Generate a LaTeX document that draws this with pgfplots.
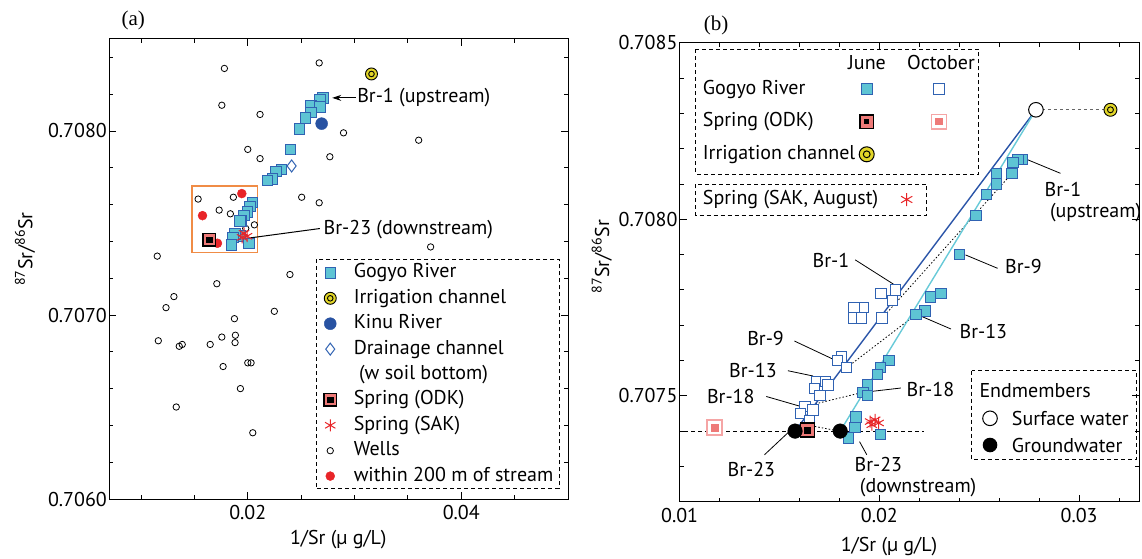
\documentclass[border=0pt]{standalone}
\usepackage{pgfplots}
\pgfplotsset{compat=1.18}
\usepackage{fontspec}
\setmainfont{PT Sans}
\newfontfamily\serifface{Liberation Serif}
\usetikzlibrary{arrows.meta}

\definecolor{gcyan}{RGB}{94,196,212}
\definecolor{gblue}{RGB}{48,98,178}
\definecolor{kinu}{RGB}{40,82,162}
\definecolor{wred}{RGB}{232,36,40}
\definecolor{irrig}{RGB}{226,214,40}
\definecolor{salmon}{RGB}{238,122,120}
\definecolor{pinkb}{RGB}{245,165,165}
\definecolor{orng}{RGB}{240,140,70}
\definecolor{lblue}{RGB}{42,84,168}
\definecolor{lcyan}{RGB}{104,202,216}

\pgfplotsset{
  myaxis/.style={
    scale only axis, clip=false, anchor=south west,
    axis line style={line width=1pt},
    tick align=inside,
    major tick length=7pt, minor tick length=4pt,
    every tick/.append style={line width=0.8pt, black},
    scaled ticks=false,
    /pgf/number format/assume math mode=true,
    yticklabel style={inner sep=2pt, /pgf/number format/.cd, fixed, fixed zerofill, precision=4},
    xticklabel style={inner sep=2pt, yshift=-4pt, /pgf/number format/.cd, fixed, fixed zerofill, precision=2},
  },
  sq/.style={only marks, mark=square*, mark size=5.2pt, mark options={fill=gcyan, draw=gblue, line width=1pt}},
  osq/.style={only marks, mark=square*, mark size=5.2pt, mark options={fill=white, draw=gblue, line width=1pt}},
}
\newcommand{\lbox}{\path[draw=none, fill=none] (0cm,-6pt) rectangle (0.6cm,6pt);}

\begin{document}
\fontsize{20}{24}\selectfont
\begin{tikzpicture}
\useasboundingbox (0pt,0pt) rectangle (1142pt,558pt);

% ================= (a) =================
\begin{axis}[myaxis, at={(109pt,59pt)}, width=459pt, height=460pt,
  xmin=0.007, xmax=0.05, ymin=0.706, ymax=0.7085,
  xtick={0.02,0.04}, minor xtick={0.01,0.015,0.025,0.03,0.035,0.045},
  ytick={0.706,0.707,0.708},
  minor ytick={0.7062,0.7064,0.7066,0.7068,0.7072,0.7074,0.7076,0.7078,0.7082,0.7084},
  legend style={draw=none, fill=none, at={(axis description cs:0.463,0.5137)}, anchor=north west,
     inner sep=0pt, row sep=5.4pt, column sep=14pt,
     nodes={inner sep=1pt, text height=14pt, text depth=4pt}},
  legend cell align=left,
]
% wells
\addplot[forget plot, only marks, mark=o, mark size=3.2pt, mark options={black, line width=0.8pt, fill=white}] coordinates {
(0.01781,0.70834) (0.02669,0.70837) (0.01757,0.70814) (0.02115,0.70809) (0.02897,0.70799)
(0.03601,0.70795) (0.02000,0.70790) (0.02115,0.70785) (0.02769,0.70786) (0.01535,0.70763)
(0.01865,0.70764) (0.01732,0.70757) (0.01837,0.70755) (0.02505,0.70764) (0.02669,0.70761)
(0.02062,0.70749) (0.01981,0.70747) (0.03713,0.70737) (0.01152,0.70732) (0.02395,0.70722)
(0.01710,0.70717) (0.01308,0.70710) (0.01234,0.70704) (0.02249,0.70702) (0.01875,0.70698)
(0.01162,0.70686) (0.01358,0.70683) (0.01386,0.70684) (0.01648,0.70684) (0.01757,0.70688)
(0.01884,0.70689) (0.01881,0.70685) (0.02000,0.70674) (0.02031,0.70674) (0.01769,0.70672)
(0.01931,0.70660) (0.01330,0.70650) (0.02047,0.70636)};
% wells within 200 m
\addplot[forget plot, only marks, mark=*, mark size=4.5pt, wred] coordinates {
(0.01944,0.70766) (0.01576,0.70754) (0.01716,0.70739)};
% drainage channel
\addplot[forget plot, only marks, mark=diamond, mark size=6pt, mark options={draw=gblue, fill=white, line width=1pt}] coordinates {(0.02411,0.70781)};
% Kinu river
\addplot[forget plot, only marks, mark=*, mark size=6pt, kinu] coordinates {(0.02692,0.70804)};
% Gogyo river
\addplot[forget plot, sq] coordinates {
(0.02704,0.70818) (0.02676,0.70817) (0.02592,0.70814) (0.02676,0.70813) (0.02592,0.70810)
(0.02539,0.70807) (0.02483,0.70801) (0.02398,0.70790) (0.02318,0.70779) (0.02264,0.70778)
(0.02234,0.70774) (0.02187,0.70773) (0.02047,0.70761) (0.02021,0.70759) (0.02000,0.70756)
(0.01965,0.70754) (0.01944,0.70751) (0.01928,0.70751) (0.01930,0.70743) (0.01881,0.70744)
(0.01860,0.70742) (0.01850,0.70738) (0.02012,0.70739)};
% irrigation channel
\addplot[forget plot, only marks, mark=*, mark size=6pt, mark options={fill=irrig, draw=black, line width=0.9pt}] coordinates {(0.03159,0.70831)};
\addplot[forget plot, only marks, mark=o, mark size=2.8pt, mark options={draw=black, line width=0.9pt}] coordinates {(0.03159,0.70831)};
% spring ODK
\addplot[forget plot, only marks, mark=square*, mark size=6.3pt, mark options={fill=salmon, draw=black, line width=1.5pt}] coordinates {(0.01638,0.70741)};
\addplot[forget plot, only marks, mark=square*, mark size=2.6pt, mark options={fill=black, draw=black}] coordinates {(0.01638,0.70741)};
% spring SAK
\addplot[forget plot, only marks, mark=asterisk, mark size=6pt, mark options={wred, line width=1pt}] coordinates {
(0.01965,0.707444) (0.01993,0.707428) (0.01947,0.707422)};

% orange box
\draw[orng, line width=1.5pt] (axis cs:0.01477,0.70770) rectangle (axis cs:0.0209,0.70734);
% arrows
\draw[-{Stealth[length=9pt,width=6pt]}, line width=1pt] (axis cs:0.03013,0.70818) -- (axis cs:0.02791,0.70818);
\node[anchor=west, inner sep=1pt] at (axis cs:0.03015,0.70818) {Br-1 (upstream)};
\draw[-{Stealth[length=9pt,width=6pt]}, line width=1pt] (axis cs:0.02676,0.70747) -- (axis cs:0.01881,0.707408);
\node[anchor=west, inner sep=1pt] at (axis cs:0.0270,0.707466) {Br-23 (downstream)};

% legend
\addlegendimage{legend image code/.code={\lbox \draw[only marks, mark=square*, mark size=5.2pt, mark options={fill=gcyan, draw=gblue, line width=1pt}] plot coordinates {(0.3cm,0cm)};}}
\addlegendentry{Gogyo River}
\addlegendimage{legend image code/.code={\lbox \draw[fill=irrig, line width=0.9pt] (0.3cm,0cm) circle (6pt); \draw[line width=0.9pt] (0.3cm,0cm) circle (2.8pt);}}
\addlegendentry{Irrigation channel}
\addlegendimage{legend image code/.code={\lbox \fill[kinu] (0.3cm,0cm) circle (6pt);}}
\addlegendentry{Kinu River}
\addlegendimage{legend image code/.code={\lbox \draw[only marks, mark=diamond, mark size=6pt, mark options={draw=gblue, fill=white, line width=1pt}] plot coordinates {(0.3cm,0cm)};}}
\addlegendentry{Drainage channel}
\addlegendimage{legend image code/.code={\lbox}}
\addlegendentry{\ (w soil bottom)}
\addlegendimage{legend image code/.code={\lbox \draw[fill=salmon, line width=1.5pt] (0.3cm,0cm) ++(-6.3pt,-6.3pt) rectangle ++(12.6pt,12.6pt); \fill[black] (0.3cm,0cm) ++(-2.6pt,-2.6pt) rectangle ++(5.2pt,5.2pt);}}
\addlegendentry{Spring (ODK)}
\addlegendimage{legend image code/.code={\lbox \draw[only marks, mark=asterisk, mark size=6pt, mark options={wred, line width=1pt}] plot coordinates {(0.3cm,0cm)};}}
\addlegendentry{Spring (SAK)}
\addlegendimage{legend image code/.code={\lbox \draw[black, line width=0.8pt] (0.3cm,0cm) circle (3.2pt);}}
\addlegendentry{Wells}
\addlegendimage{legend image code/.code={\lbox \fill[wred] (0.3cm,0cm) circle (4.5pt);}}
\addlegendentry{within 200 m of stream}
\end{axis}

% ================= (b) =================
\begin{axis}[myaxis, at={(679.6pt,56.3pt)}, width=459.4pt, height=459pt,
  xmin=0.01, xmax=0.033, ymin=0.7072, ymax=0.7085,
  xtick={0.01,0.02,0.03}, minor xtick={0.012,0.014,0.016,0.018,0.022,0.024,0.026,0.028,0.032},
  ytick={0.7075,0.708,0.7085},
  minor ytick={0.7073,0.7074,0.7076,0.7077,0.7078,0.7079,0.7081,0.7082,0.7083,0.7084},
]
% reference lines
\addplot[forget plot, black, line width=0.8pt, dash pattern=on 4pt off 3pt] coordinates {(0.01022,0.7074) (0.02224,0.7074)};
\addplot[forget plot, black!60, line width=0.8pt, dash pattern=on 3pt off 3pt] coordinates {(0.02784,0.70831) (0.03157,0.70831)};
\addplot[forget plot, black, line width=0.8pt, dash pattern=on 1.5pt off 2pt] coordinates {(0.02014,0.70772) (0.02664,0.70813)};
\addplot[forget plot, black, line width=0.8pt, dash pattern=on 1.5pt off 2pt] coordinates {(0.01837,0.70758) (0.02183,0.70773)};
\addplot[forget plot, black, line width=0.8pt, dash pattern=on 1.5pt off 2pt] coordinates {(0.01628,0.70747) (0.01919,0.70751)};
\addplot[forget plot, black, line width=0.8pt, dash pattern=on 1.5pt off 2pt] coordinates {(0.0166,0.707415) (0.0178,0.707402)};
% October Gogyo
\addplot[forget plot, osq] coordinates {
(0.0208,0.70780) (0.02009,0.70779) (0.02066,0.70777) (0.01919,0.70775) (0.01874,0.70775)
(0.01874,0.70772) (0.0191,0.70772) (0.02014,0.70772) (0.01811,0.70761) (0.01789,0.70760)
(0.01835,0.70758) (0.01686,0.70754) (0.0173,0.70754) (0.01743,0.70753) (0.01676,0.70752)
(0.01703,0.70750) (0.01628,0.70747) (0.01668,0.70746) (0.01605,0.70745) (0.01649,0.70743)};
% mixing lines
\addplot[forget plot, lblue, line width=1.4pt] coordinates {(0.02784,0.70831) (0.01578,0.70740)};
\addplot[forget plot, lcyan, line width=1.4pt] coordinates {(0.02784,0.70831) (0.01804,0.70740)};
% June Gogyo
\addplot[forget plot, sq] coordinates {
(0.02718,0.70817) (0.02694,0.70817) (0.02669,0.70816) (0.02664,0.70813) (0.02587,0.70813)
(0.02587,0.70810) (0.02535,0.70807) (0.02484,0.70801) (0.02400,0.70790) (0.02309,0.70779)
(0.02256,0.70778) (0.02228,0.70774) (0.02183,0.70773) (0.02048,0.70760) (0.02005,0.70758)
(0.01991,0.70756) (0.01942,0.70753) (0.01919,0.70751) (0.01942,0.70750) (0.01883,0.70744)
(0.01878,0.70741) (0.01847,0.70738) (0.02005,0.70739)};
% spring ODK June / October
\addplot[forget plot, only marks, mark=square*, mark size=7pt, mark options={fill=salmon, draw=black, line width=1.5pt}] coordinates {(0.0164,0.707403)};
\addplot[forget plot, only marks, mark=square*, mark size=2.8pt, mark options={fill=black, draw=black}] coordinates {(0.0164,0.707403)};
\addplot[forget plot, only marks, mark=square*, mark size=7.5pt, mark options={fill=white, draw=pinkb, line width=1.3pt}] coordinates {(0.01174,0.70741)};
\addplot[forget plot, only marks, mark=square*, mark size=3.6pt, mark options={fill=salmon, draw=salmon}] coordinates {(0.01174,0.70741)};
% spring SAK
\addplot[forget plot, only marks, mark=asterisk, mark size=6pt, mark options={wred, line width=1pt}] coordinates {
(0.01954,0.707427) (0.01979,0.707432) (0.01996,0.707423) (0.01962,0.707418)};
% endmembers
\addplot[forget plot, only marks, mark=*, mark size=7.3pt, black] coordinates {(0.01578,0.70740) (0.01804,0.70740)};
\addplot[forget plot, only marks, mark=*, mark size=7.3pt, mark options={fill=white, draw=black, line width=1pt}] coordinates {(0.02784,0.70831)};
% irrigation
\addplot[forget plot, only marks, mark=*, mark size=6.5pt, mark options={fill=irrig, draw=black, line width=0.9pt}] coordinates {(0.03157,0.70831)};
\addplot[forget plot, only marks, mark=o, mark size=3pt, mark options={draw=black, line width=0.9pt}] coordinates {(0.03157,0.70831)};

% labels and leaders
\begin{scope}[line width=0.8pt]
\node[anchor=north west, align=left, inner sep=0pt, font=\fontsize{20}{21}\selectfont] at (axis cs:0.02826,0.708106) {Br-1\\\ (upstream)};
\draw (axis cs:0.02736,0.70817) -- (axis cs:0.02907,0.70813);
\node[anchor=west, inner sep=0pt] at (axis cs:0.02628,0.707866) {Br-9};
\draw (axis cs:0.02431,0.707899) -- (axis cs:0.02592,0.707861);
\node[inner sep=0pt] at (axis cs:0.01758,0.707882) {Br-1};
\draw (axis cs:0.01879,0.707885) -- (axis cs:0.02071,0.707816);
\node[anchor=west, inner sep=0pt] at (axis cs:0.0240,0.707682) {Br-13};
\draw (axis cs:0.02215,0.707724) -- (axis cs:0.02359,0.707689);
\node[anchor=east, inner sep=0pt] at (axis cs:0.01524,0.707663) {Br-9};
\draw (axis cs:0.01575,0.707655) -- (axis cs:0.01767,0.707604);
\node[anchor=east, inner sep=0pt] at (axis cs:0.01488,0.707571) {Br-13};
\draw (axis cs:0.01542,0.707571) -- (axis cs:0.01668,0.707556);
\node[anchor=west, inner sep=0pt] at (axis cs:0.02135,0.707517) {Br-18};
\draw (axis cs:0.02108,0.707522) -- (axis cs:0.01955,0.707512);
\node[anchor=east, inner sep=0pt] at (axis cs:0.01377,0.707498) {Br-18};
\draw (axis cs:0.01434,0.707498) -- (axis cs:0.01605,0.70747);
\node[inner sep=0pt] at (axis cs:0.01359,0.707292) {Br-23};
\draw (axis cs:0.01425,0.707333) -- (axis cs:0.01557,0.707403);
\node[anchor=north west, align=left, inner sep=0pt, font=\fontsize{20}{21}\selectfont] at (axis cs:0.01874,0.707328) {Br-23\\\ (downstream)};
\draw (axis cs:0.01901,0.70737) -- (axis cs:0.01937,0.707333);
\end{scope}
\end{axis}

% ================= absolute decorations =================
\node[rotate=90] at (25pt,309pt) {\textsuperscript{87}Sr/\textsuperscript{86}Sr};
\node[rotate=90] at (601.7pt,301.3pt) {\textsuperscript{87}Sr/\textsuperscript{86}Sr};
\node at (338.3pt,18.7pt) {1/Sr (µ g/L)};
\node at (889pt,11.3pt) {1/Sr (µ g/L)};
\node[font=\serifface\fontsize{21}{24}\selectfont] at (133.3pt,538pt) {(a)};
\node[font=\serifface\fontsize{21}{24}\selectfont] at (716pt,533pt) {(b)};

% legend box (a)
\draw[line width=1pt, dash pattern=on 4pt off 3pt] (316pt,299pt) rectangle (559pt,69.3pt);

% legend (b) top
\draw[line width=1pt, dash pattern=on 4pt off 3pt] (695.7pt,508.7pt) rectangle (978.5pt,384pt);
\node at (867pt,495.3pt) {June};
\node at (941pt,495.3pt) {October};
\node[anchor=west, inner sep=0pt] at (702.7pt,468.7pt) {Gogyo River};
\node[anchor=west, inner sep=0pt] at (702.7pt,436.3pt) {Spring (ODK)};
\node[anchor=west, inner sep=0pt] at (702.7pt,403.7pt) {Irrigation channel};
\draw[fill=gcyan, draw=gblue, line width=1pt] (861.4pt,463.4pt) rectangle (872pt,474pt);
\draw[fill=white, draw=gblue, line width=1pt] (933.7pt,463.4pt) rectangle (944.3pt,474pt);
\draw[fill=salmon, draw=black, line width=1.5pt] (859.9pt,429.5pt) rectangle (873.5pt,443.1pt);
\fill[black] (864.1pt,433.7pt) rectangle (869.3pt,438.9pt);
\draw[fill=white, draw=pinkb, line width=1.3pt] (931.7pt,429pt) rectangle (946.3pt,443.6pt);
\fill[salmon] (935.4pt,432.7pt) rectangle (942.6pt,439.9pt);
\draw[fill=irrig, line width=1pt] (866.7pt,403.7pt) circle (7.5pt);
\draw[line width=1pt] (866.7pt,403.7pt) circle (3.4pt);

% legend (b) SAK
\draw[line width=1pt, dash pattern=on 4pt off 3pt] (695.7pt,374pt) rectangle (926.7pt,343pt);
\node[anchor=west, inner sep=0pt] at (702.7pt,358.5pt) {Spring (SAK, August)};
\draw[wred, line width=1pt] (906.7pt,358.5pt) +(90:6.5pt) -- +(270:6.5pt) +(30:6.5pt) -- +(210:6.5pt) +(150:6.5pt) -- +(330:6.5pt);

% legend (b) endmembers
\draw[line width=1pt, dash pattern=on 4pt off 3pt] (971.7pt,187.3pt) rectangle (1136.6pt,98.7pt);
\node[anchor=west, inner sep=0pt] at (979.3pt,167.3pt) {Endmembers};
\draw[fill=white, line width=1pt] (990pt,139.7pt) circle (7.3pt);
\fill[black] (990pt,113pt) circle (7.3pt);
\node[anchor=west, inner sep=0pt] at (1011.7pt,139.7pt) {Surface water};
\node[anchor=west, inner sep=0pt] at (1011.7pt,113pt) {Groundwater};
\end{tikzpicture}
\end{document}
